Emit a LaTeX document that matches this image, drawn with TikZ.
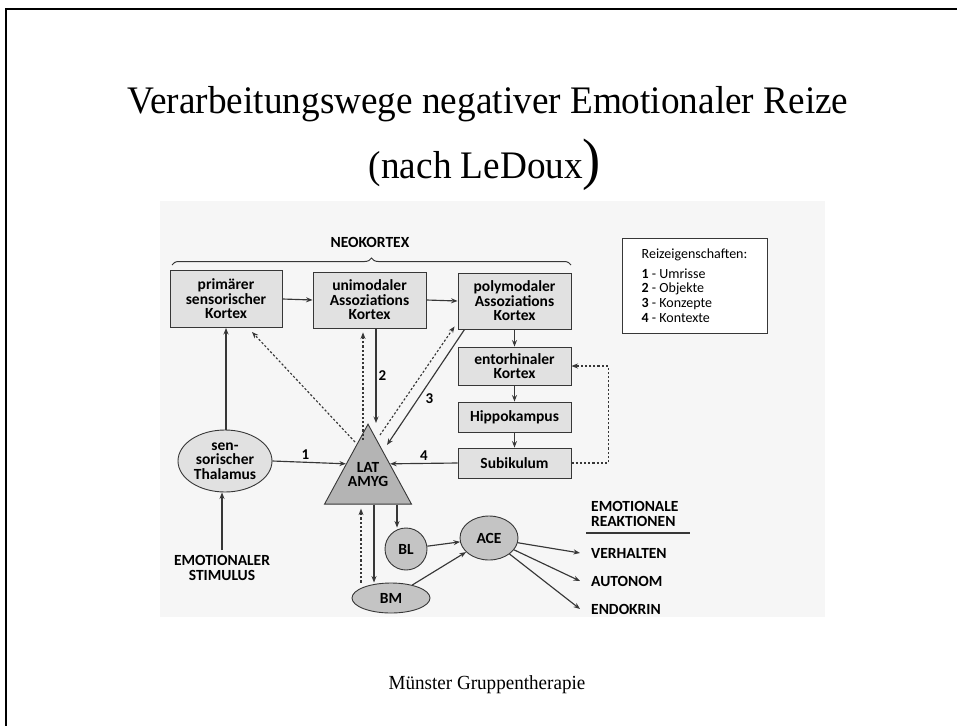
\documentclass[tikz,border=0pt]{standalone}
\usepackage{fontspec}
\setmainfont{Liberation Serif}[FakeStretch=0.955]
\newfontfamily\diagfont{Carlito}
\usepackage{tikz}
\usetikzlibrary{arrows.meta,shapes.geometric,decorations.pathreplacing,positioning}

\definecolor{boxfill}{RGB}{225,225,225}
\definecolor{nucfill}{RGB}{196,196,196}
\definecolor{trifill}{RGB}{180,180,180}
\definecolor{edgegray}{RGB}{55,55,55}
\definecolor{scanfill}{RGB}{246,246,246}

\tikzset{
  lbl/.style={font=\diagfont\bfseries\fontsize{15.5}{14.5}\selectfont, align=center, inner sep=0pt},
  cortex/.style={lbl, draw=edgegray, fill=boxfill, line width=0.9pt, minimum width=113pt},
  nucleus/.style={lbl, ellipse, draw=edgegray, fill=nucfill, line width=0.9pt},
  conn/.style={-{Stealth[length=6.5pt,width=5pt]}, draw=edgegray, line width=1.15pt},
  dotconn/.style={conn, dash pattern=on 2.2pt off 2pt},
  num/.style={font=\diagfont\bfseries\fontsize{15}{15}\selectfont, inner sep=2pt},
}

\begin{document}
\begin{tikzpicture}[x=1pt,y=-1pt]
  \useasboundingbox (0,0) rectangle (957,725);
  % slide frame and scan background
  \draw[line width=2.3pt] (6,740) -- (6,9) -- (970,9);
  \fill[scanfill] (160,201) rectangle (825,617);

  \node[anchor=base, font=\fontsize{39}{46}\selectfont] (title) at (488,113) {Verarbeitungswege negativer Emotionaler Reize};
  \node[anchor=base, font=\fontsize{39}{46}\selectfont] (subtitle) at (485,178) {(nach LeDoux{\fontsize{57}{60}\selectfont)}};
  \node[anchor=base, font=\fontsize{20}{24}\selectfont] (footer) at (487,689) {Münster Gruppentherapie};

  % neocortex
  \node[lbl] (neo) at (370,242) {NEOKORTEX};
  \draw[edgegray, line width=1pt, decorate, decoration={brace, amplitude=7pt}] (172,265) -- (571,265);
  \node[cortex, minimum height=57pt, minimum width=112pt] (prim) at (226,299) {primärer\\sensorischer\\Kortex};
  \node[cortex, minimum height=56pt] (unimod) at (369.5,300) {unimodaler\\Assoziations\\Kortex};
  \node[cortex, minimum height=56pt] (polymod) at (514.5,301) {polymodaler\\Assoziations\\Kortex};
  \node[cortex, minimum height=38pt] (entorh) at (514.5,366) {entorhinaler\\Kortex};
  \node[cortex, minimum height=30pt] (hippo) at (514.5,417) {Hippokampus};
  \node[cortex, minimum height=30pt] (subik) at (514.5,463) {Subikulum};

  \node[draw=edgegray, fill=white, line width=0.9pt, minimum width=145pt, minimum height=95pt, align=left,
        font=\diagfont\fontsize{14}{14.7}\selectfont] (legend) at (694.5,285.5)
        {Reizeigenschaften:\\[5pt]\textbf{1} - Umrisse\\\textbf{2} - Objekte\\\textbf{3} - Konzepte\\\textbf{4} - Kontexte};

  % thalamus, amygdala
  \node[nucleus, fill=boxfill, minimum width=94pt, minimum height=62pt] (thal) at (225,461) {sen-\\sorischer\\Thalamus};
  \node[lbl, inner sep=5pt] (stim) at (222,568) {EMOTIONALER\\STIMULUS};
  \node[lbl, isosceles triangle, shape border rotate=90, isosceles triangle stretches,
        minimum width=87pt, minimum height=80pt, draw=edgegray, fill=trifill, line width=0.9pt,
        anchor=apex, label={[lbl, yshift=4pt]center:LAT\\AMYG}] (amyg) at (368,423) {};
  \node[nucleus, circle, minimum size=42pt] (bl) at (406,549) {BL};
  \node[nucleus, minimum width=78pt, minimum height=30pt] (bm) at (391,598) {BM};
  \node[nucleus, minimum width=58pt, minimum height=44pt] (ace) at (489,538) {ACE};

  % reactions
  \node[lbl, anchor=west, align=left] (reakt) at (591,514) {EMOTIONALE\\REAKTIONEN};
  \draw[edgegray, line width=1.6pt] (586,533) -- (690,533);
  \node[lbl, anchor=west] (verh) at (591,553) {VERHALTEN};
  \node[lbl, anchor=west] (auton) at (591,581) {AUTONOM};
  \node[lbl, anchor=west] (endo) at (591,609) {ENDOKRIN};

  % connections
  \draw[conn] (stim.north) -- (stim.north |- thal.south);
  \draw[conn] (thal.north -| prim.south) -- (prim.south);
  \draw[conn] (prim.east) -- (unimod.west);
  \draw[conn] (unimod.east) -- (polymod.west);
  \draw[conn] (polymod.south) -- (entorh.north);
  \draw[conn] (entorh.south) -- (hippo.north);
  \draw[conn] (hippo.south) -- (subik.north);
  \draw[dotconn] (subik.east) -- ++(37,0) |- (entorh.east);

  \draw[conn] (thal.east) -- (amyg.left side) node[num, pos=.45, above] (n1) {1};
  \draw[conn] ([xshift=6.5pt]unimod.south) -- ([xshift=6.5pt]unimod.south |- amyg.apex) node[num, midway, right] (n2) {2};
  \draw[conn] ([xshift=7pt]polymod.south west) -- ([shift={(19,22)}]amyg.apex) node[num, pos=.6, right=5pt] (n3) {3};
  \draw[conn] (subik.west) -- (amyg.right side) node[num, midway, above] (n4) {4};

  \draw[dotconn] ([shift={(-13,19)}]amyg.apex) -- ([shift={(26,4)}]prim.south);
  \draw[dotconn] ([shift={(-5,17)}]amyg.apex) -- ([shift={(-6.5,4)}]unimod.south);
  \draw[dotconn] ([shift={(12,12)}]amyg.apex) -- ([shift={(-3,-3)}]polymod.south west);

  \draw[conn] ([xshift=29pt]amyg.lower side) -- ([xshift=29pt]amyg.lower side |- bl.north);
  \draw[conn] ([xshift=6pt]amyg.lower side) -- ([xshift=6pt]amyg.lower side |- bm.north);
  \draw[dotconn] ([xshift=-7pt]amyg.lower side |- bm.north) -- ([shift={(-7,4)}]amyg.lower side);
  \draw[conn] (bl) -- (ace);
  \draw[conn] (bm) -- (ace);

  \draw[conn] (ace) -- ([xshift=-11pt]verh.west);
  \draw[conn] (ace) -- ([xshift=-11pt]auton.west);
  \draw[conn] (ace) -- ([xshift=-11pt]endo.west);
\end{tikzpicture}
\end{document}
